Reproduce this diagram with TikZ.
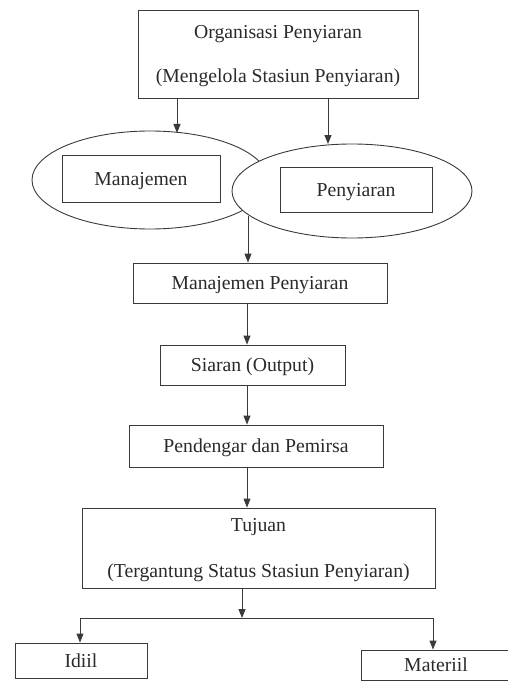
\documentclass[tikz,border=0pt]{standalone}
\usepackage{fontspec}
\setmainfont{Liberation Serif}
\usetikzlibrary{shapes.geometric,arrows.meta}
\definecolor{linec}{HTML}{3A3A3A}
\definecolor{textc}{HTML}{2A2A2A}
\tikzset{
  box/.style={draw=linec, line width=0.9pt, rectangle, inner sep=0pt, text=textc, align=center,
    text depth=0pt, font=\fontsize{19.8}{24}\selectfont},
  ell/.style={draw=linec, line width=0.9pt, ellipse, inner sep=0pt},
  arr/.style={draw=linec, line width=0.9pt, -{Triangle[length=9bp,width=7bp]}},
  ln/.style={draw=linec, line width=0.9pt}
}
\begin{document}
\begin{tikzpicture}[x=1bp,y=-1bp]
\useasboundingbox (0,0) rectangle (508,681);
\clip (0,0) rectangle (508,681);
\fill[white] (0,0) rectangle (508,681);
% top box
\node[box, minimum width=280bp, minimum height=88bp] (top) at (278,54)
  {Organisasi Penyiaran\\[21pt](Mengelola Stasiun Penyiaran)};
% ellipses
\node[ell, minimum width=236bp, minimum height=98bp] (lell) at (150,180) {};
\node[ell, fill=white, minimum width=240bp, minimum height=94bp] (rell) at (352,191) {};
\node[box, minimum width=158bp, minimum height=47bp] (man) at (141,178.5) {Manajemen};
\node[box, minimum width=152bp, minimum height=45bp] (pen) at (356,189.5) {Penyiaran};
\coordinate (a1) at (177,133);
\coordinate (a2) at (328,144);
\coordinate (meet) at (248,216);
\draw[arr] (top.south -| a1) -- (a1);
\draw[arr] (top.south -| a2) -- (a2);
% chain
\node[box, minimum width=254bp, minimum height=40bp] (mp) at (260,283) {Manajemen Penyiaran};
\node[box, minimum width=185bp, minimum height=40bp] (sia) at (252.5,365) {Siaran (Output)};
\node[box, minimum width=254bp, minimum height=42bp] (pd) at (256,446) {Pendengar dan Pemirsa};
\node[box, minimum width=353bp, minimum height=80bp] (tuj) at (258.5,548)
  {Tujuan\\[22pt](Tergantung Status Stasiun Penyiaran)};
\draw[arr] (meet) -- (meet |- mp.north);
\draw[arr] (mp.south -| 247,0) -- (sia.north -| 247,0);
\draw[arr] (sia.south -| 247,0) -- (pd.north -| 247,0);
\draw[arr] (pd.south -| 247,0) -- (tuj.north -| 247,0);
% bottom
\node[box, minimum width=132bp, minimum height=35bp] (idi) at (81,660.5) {Idiil};
\node[box, minimum width=150bp, minimum height=30bp] (mat) at (436,665) {Materiil};
\coordinate (split) at (242,618);
\draw[arr] (tuj.south -| split) -- (split);
\draw[ln] (80,618) coordinate (sl) -- (433,618) coordinate (sr);
\draw[arr] (sl) -- (sl |- idi.north);
\draw[arr] (sr) -- (sr |- mat.north);
\end{tikzpicture}
\end{document}
